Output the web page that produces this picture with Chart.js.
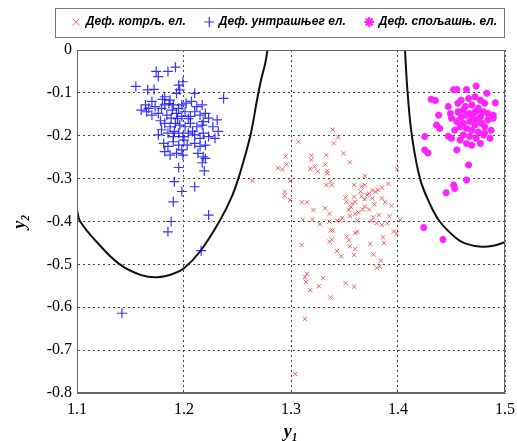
<!DOCTYPE html>
<html>
<head>
<meta charset="utf-8">
<script src="https://cdn.jsdelivr.net/npm/chart.js@4"></script>
<style>
  html, body { margin: 0; padding: 0; background: #fff; }
  #wrap { width: 517px; height: 441px; }
</style>
</head>
<body>
<div id="wrap"><canvas id="chart" width="517" height="441"></canvas></div>
<script>
// legend labels
const seriesNames = ['Деф. котрљ. ел.', 'Деф. унтрашњег ел.', 'Деф. спољашњ. ел.'];

// tick labels
const xTicks = [1.1, 1.2, 1.3, 1.4, 1.5];
const yTicks = [0, -0.1, -0.2, -0.3, -0.4, -0.5, -0.6, -0.7, -0.8];

// red cluster (x markers)
const rolX = [1.339, 1.344, 1.340, 1.307, 1.349, 1.355, 1.295, 1.288, 1.292, 1.296, 1.319, 1.319, 1.333, 1.332,
  1.318, 1.322, 1.325, 1.334, 1.334, 1.264, 1.299, 1.337, 1.333, 1.338, 1.369, 1.399, 1.391, 1.359, 1.366,
  1.369, 1.376, 1.379, 1.373, 1.385, 1.294, 1.294, 1.299, 1.310, 1.315, 1.351, 1.352, 1.359, 1.360, 1.366,
  1.369, 1.376, 1.385, 1.394, 1.357, 1.332, 1.336, 1.321, 1.369, 1.373, 1.354, 1.355, 1.360, 1.363, 1.377,
  1.380, 1.385, 1.390, 1.402, 1.396, 1.399, 1.311, 1.320, 1.327, 1.336, 1.343, 1.346, 1.337, 1.339, 1.336,
  1.338, 1.352, 1.354, 1.355, 1.360, 1.362, 1.310, 1.343, 1.347, 1.360, 1.359, 1.374, 1.386, 1.387, 1.377,
  1.384, 1.380, 1.383, 1.315, 1.313, 1.314, 1.318, 1.326, 1.330, 1.337, 1.351, 1.359, 1.313, 1.304,
  1.371, 1.378, 1.365, 1.382, 1.348, 1.362, 1.388, 1.375, 1.367, 1.392, 1.381, 1.356];
const rolY = [-0.186, -0.204, -0.218, -0.214, -0.241, -0.262, -0.248, -0.275, -0.278, -0.267, -0.246, -0.256, -0.245, -0.267,
  -0.277, -0.272, -0.283, -0.282, -0.288, -0.305, -0.305, -0.306, -0.315, -0.315, -0.294, -0.278, -0.312, -0.315, -0.318,
  -0.315, -0.327, -0.331, -0.335, -0.321, -0.331, -0.340, -0.350, -0.355, -0.355, -0.344, -0.354, -0.342, -0.354, -0.341,
  -0.348, -0.346, -0.346, -0.363, -0.358, -0.369, -0.382, -0.373, -0.365, -0.372, -0.373, -0.387, -0.382, -0.379, -0.390,
  -0.404, -0.408, -0.404, -0.396, -0.423, -0.428, -0.396, -0.396, -0.406, -0.400, -0.398, -0.398, -0.421, -0.421, -0.447,
  -0.442, -0.435, -0.444, -0.458, -0.427, -0.424, -0.455, -0.469, -0.481, -0.464, -0.478, -0.452, -0.437, -0.450, -0.477,
  -0.491, -0.508, -0.505, -0.522, -0.530, -0.541, -0.560, -0.551, -0.532, -0.577, -0.544, -0.552, -0.627, -0.756,
  -0.338, -0.360, -0.330, -0.385, -0.392, -0.398, -0.355, -0.398, -0.372, -0.388, -0.326, -0.366];

// blue cluster (+ markers)
const innX = [1.174, 1.176, 1.185, 1.192, 1.155, 1.166, 1.172, 1.195, 1.196, 1.193, 1.199, 1.210, 1.237, 1.182, 1.187,
  1.170, 1.173, 1.167, 1.164, 1.176, 1.170, 1.165, 1.179, 1.182, 1.190, 1.195, 1.198, 1.202, 1.207, 1.212, 1.217,
  1.184, 1.188, 1.193, 1.198, 1.201, 1.206, 1.210, 1.215, 1.220, 1.223, 1.218, 1.182, 1.187, 1.192, 1.196, 1.201,
  1.206, 1.212, 1.217, 1.227, 1.231, 1.232, 1.176, 1.179, 1.185, 1.190, 1.195, 1.199, 1.204, 1.210, 1.215, 1.218,
  1.223, 1.229, 1.181, 1.185, 1.190, 1.195, 1.182, 1.187, 1.193, 1.198, 1.210, 1.215, 1.220, 1.213, 1.218, 1.203,
  1.199, 1.220, 1.195, 1.217, 1.219, 1.191, 1.210, 1.198, 1.190, 1.223, 1.188, 1.185, 1.216, 1.142,
  1.160, 1.178, 1.191, 1.204, 1.189, 1.200, 1.186, 1.208, 1.194, 1.180];
const innY = [-0.050, -0.062, -0.050, -0.040, -0.085, -0.093, -0.092, -0.082, -0.093, -0.101, -0.074, -0.101, -0.113, -0.109, -0.117,
  -0.120, -0.132, -0.136, -0.128, -0.148, -0.152, -0.144, -0.136, -0.128, -0.128, -0.136, -0.128, -0.124, -0.120, -0.132, -0.128,
  -0.152, -0.159, -0.148, -0.155, -0.144, -0.155, -0.144, -0.152, -0.148, -0.159, -0.167, -0.171, -0.179, -0.171, -0.175, -0.179,
  -0.171, -0.179, -0.175, -0.179, -0.163, -0.190, -0.198, -0.186, -0.194, -0.202, -0.194, -0.202, -0.194, -0.198, -0.206, -0.194,
  -0.202, -0.206, -0.218, -0.225, -0.214, -0.222, -0.237, -0.245, -0.241, -0.233, -0.218, -0.225, -0.222, -0.241, -0.249, -0.222,
  -0.245, -0.253, -0.274, -0.263, -0.282, -0.307, -0.319, -0.330, -0.354, -0.385, -0.400, -0.424, -0.468, -0.614,
  -0.140, -0.165, -0.190, -0.160, -0.140, -0.210, -0.125, -0.190, -0.160, -0.115];

// magenta cluster (* markers)
const outX = [1.431, 1.435, 1.452, 1.455, 1.464, 1.473, 1.483, 1.491, 1.438, 1.447, 1.449, 1.436, 1.439, 1.489, 1.489,
  1.447, 1.450, 1.425, 1.425, 1.428, 1.455, 1.466, 1.464, 1.452, 1.453, 1.445, 1.424, 1.442,
  1.459, 1.466, 1.472, 1.477, 1.481, 1.463, 1.469, 1.475, 1.480, 1.484, 1.456, 1.459, 1.464, 1.467, 1.470, 1.473,
  1.477, 1.478, 1.481, 1.484, 1.455, 1.458, 1.461, 1.464, 1.469, 1.472, 1.475, 1.480, 1.481, 1.461, 1.467, 1.473,
  1.477, 1.469, 1.464, 1.458, 1.450, 1.453, 1.487, 1.486, 1.472, 1.467, 1.475, 1.461, 1.456];
const outY = [-0.115, -0.118, -0.093, -0.092, -0.092, -0.084, -0.101, -0.123, -0.152, -0.132, -0.148, -0.175, -0.183, -0.152, -0.159,
  -0.201, -0.206, -0.202, -0.233, -0.240, -0.233, -0.268, -0.303, -0.315, -0.323, -0.333, -0.414, -0.442,
  -0.117, -0.113, -0.109, -0.117, -0.124, -0.132, -0.128, -0.136, -0.144, -0.148, -0.144, -0.156, -0.152, -0.148, -0.156, -0.163,
  -0.156, -0.171, -0.179, -0.163, -0.167, -0.179, -0.171, -0.183, -0.187, -0.175, -0.191, -0.198, -0.194, -0.198, -0.202, -0.206,
  -0.218, -0.222, -0.218, -0.210, -0.159, -0.187, -0.187, -0.206, -0.144, -0.167, -0.140, -0.140, -0.124];

// decision boundaries
const leftCurveX = [1.100, 1.103, 1.120, 1.140, 1.160, 1.175, 1.190, 1.200, 1.215, 1.233, 1.245, 1.252, 1.262, 1.268, 1.272, 1.276, 1.278];
const leftCurveY = [-0.373, -0.400, -0.452, -0.500, -0.525, -0.530, -0.522, -0.509, -0.470, -0.400, -0.340, -0.290, -0.200, -0.120, -0.070, -0.030, 0.000];
const rightCurveX = [1.4065, 1.409, 1.413, 1.4206, 1.430, 1.439, 1.453, 1.4626, 1.4785, 1.490, 1.500];
const rightCurveY = [0.000, -0.100, -0.200, -0.300, -0.360, -0.400, -0.436, -0.451, -0.459, -0.456, -0.448];

function toPoints(xs, ys) {
  return xs.map((x, i) => ({ x: x, y: ys[i] }));
}

const gridStyle = { color: '#444', lineWidth: 1, drawTicks: false };
const axisTitleFont = { family: 'Liberation Serif', size: 18, style: 'italic', weight: 'bold', lineHeight: 1 };
const tickFont = { family: 'Liberation Serif', size: 16 };

// legend height + box around the legend + plot frame
const legendBox = {
  id: 'legendBox',
  beforeLayout(chart) {
    const lg = chart.legend;
    if (lg && !lg._patched) {
      const fit = lg.fit;
      lg.fit = function () {
        fit.call(this);
        this.height = 54;
      };
      lg._patched = true;
    }
  },
  afterDraw(chart) {
    const ctx = chart.ctx;
    const a = chart.chartArea;
    const hb = chart.legend.legendHitBoxes[0];
    const midY = hb.top + hb.height / 2;
    ctx.save();
    ctx.strokeStyle = '#777';
    ctx.lineWidth = 1;
    ctx.setLineDash([]);
    ctx.strokeRect(a.left - 21.5, Math.round(midY - 14) + 0.5, a.right - a.left + 21, 29);
    ctx.strokeStyle = '#666';
    ctx.strokeRect(a.left + 0.5, a.top + 0.5, a.right - a.left - 1, a.bottom - a.top - 1);
    ctx.restore();
  }
};

new Chart(document.getElementById('chart'), {
  type: 'scatter',
  data: {
    datasets: [
      {
        label: seriesNames[0],
        data: toPoints(rolX, rolY),
        pointStyle: 'crossRot',
        radius: 3,
        borderWidth: 1,
        borderColor: 'rgba(245,60,60,0.8)',
        backgroundColor: 'rgba(245,60,60,0.8)'
      },
      {
        label: seriesNames[1],
        data: toPoints(innX, innY),
        pointStyle: 'cross',
        radius: 5,
        borderWidth: 1.2,
        borderColor: 'rgba(20,20,255,0.85)',
        backgroundColor: 'rgba(20,20,255,0.85)'
      },
      {
        label: seriesNames[2],
        data: toPoints(outX, outY),
        pointStyle: 'star',
        radius: 3.5,
        borderWidth: 2.2,
        borderColor: '#ff22ff',
        backgroundColor: '#ff22ff'
      },
      {
        label: 'left',
        data: toPoints(leftCurveX, leftCurveY),
        showLine: true,
        pointRadius: 0,
        borderColor: '#111',
        borderWidth: 2,
        tension: 0.4,
        fill: false
      },
      {
        label: 'right',
        data: toPoints(rightCurveX, rightCurveY),
        showLine: true,
        pointRadius: 0,
        borderColor: '#111',
        borderWidth: 2,
        tension: 0.4,
        fill: false
      }
    ]
  },
  options: {
    responsive: false,
    animation: false,
    layout: { padding: { top: -4, right: 0, left: 0, bottom: 0 } },
    plugins: {
      tooltip: { enabled: false },
      legend: {
        position: 'top',
        align: 'end',
        labels: {
          filter: item => item.datasetIndex < 3,
          usePointStyle: true,
          boxWidth: 7,
          boxHeight: 7,
          padding: 20,
          color: '#000',
          font: { family: 'Liberation Sans', size: 12, style: 'italic', weight: 'bold' }
        }
      }
    },
    scales: {
      x: {
        type: 'linear',
        min: 1.1,
        max: 1.5,
        afterFit: s => { s.height = 48; s.paddingLeft = 0; s.paddingRight = 12; },
        afterBuildTicks: s => { s.ticks = xTicks.map(v => ({ value: v })); },
        ticks: { padding: 7, color: '#000', font: tickFont, callback: v => v.toFixed(1) },
        grid: gridStyle,
        border: { display: true, color: '#666', dash: [2, 3] },
        title: { display: true, text: 'y\u2081', color: '#000', padding: 0, font: axisTitleFont }
      },
      y: {
        type: 'linear',
        min: -0.8,
        max: 0,
        afterFit: s => { s.width = 77; s.paddingTop = 0; s.paddingBottom = 0; },
        afterBuildTicks: s => { s.ticks = yTicks.map(v => ({ value: v })); },
        ticks: { padding: 5, color: '#000', font: tickFont, callback: v => (v === 0 ? '0' : v.toFixed(1)) },
        grid: gridStyle,
        border: { display: true, color: '#666', dash: [2, 3] },
        title: { display: true, text: 'y\u2082', color: '#000', padding: { top: 11, bottom: 0 }, font: axisTitleFont }
      }
    }
  },
  plugins: [legendBox]
});
</script>
</body>
</html>
